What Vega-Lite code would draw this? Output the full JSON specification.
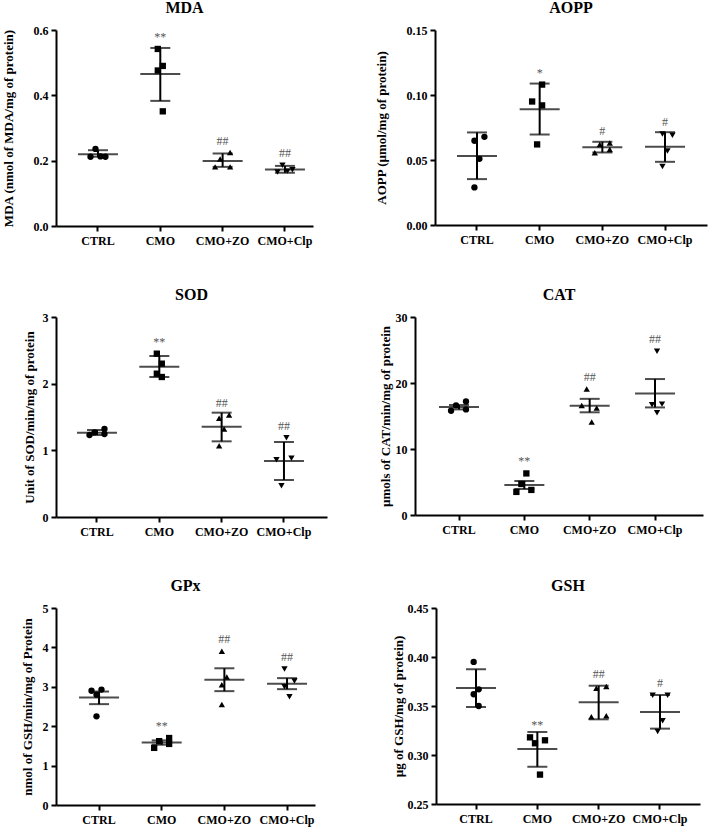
{
  "$schema": "https://vega.github.io/schema/vega-lite/v6.json",
  "background": "white",
  "padding": {"left": 2, "top": 0, "right": 2, "bottom": 2},
  "config": {
    "font": "Liberation Serif",
    "view": {"stroke": null},
    "axis": {"labelFont": "Liberation Serif", "labelFontSize": 12, "labelFontWeight": "bold", "labelColor": "black", "titleFont": "Liberation Serif", "titleFontSize": 13, "titleFontWeight": "bold", "titleColor": "black", "domainColor": "black", "domainWidth": 2, "tickColor": "black", "tickWidth": 2, "tickSize": 5, "grid": false, "labelPadding": 3},
    "axisX": {"labelPadding": 4},
    "title": {"font": "Liberation Serif", "fontSize": 16, "fontWeight": "bold", "color": "black", "offset": 8, "frame": "group"},
    "tick": {"thickness": 2, "color": "black"}
  },
  "datasets": {
    "MDA_obs": [
      {"group": "CTRL", "rep": 2, "value": 0.236}, {"group": "CTRL", "rep": 1, "value": 0.212}, {"group": "CTRL", "rep": 3, "value": 0.213}, {"group": "CTRL", "rep": 4, "value": 0.212},
      {"group": "CMO", "rep": 2, "value": 0.542}, {"group": "CMO", "rep": 3, "value": 0.49}, {"group": "CMO", "rep": 2, "value": 0.476}, {"group": "CMO", "rep": 3, "value": 0.351},
      {"group": "CMO+ZO", "rep": 4, "value": 0.225}, {"group": "CMO+ZO", "rep": 2, "value": 0.205}, {"group": "CMO+ZO", "rep": 1, "value": 0.181}, {"group": "CMO+ZO", "rep": 4, "value": 0.181},
      {"group": "CMO+Clp", "rep": 2, "value": 0.186}, {"group": "CMO+Clp", "rep": 4, "value": 0.172}, {"group": "CMO+Clp", "rep": 1, "value": 0.165}, {"group": "CMO+Clp", "rep": 3, "value": 0.168}
    ],
    "MDA_sum": [
      {"group": "CTRL", "mean": 0.22, "lo": 0.212, "hi": 0.232, "sig": null},
      {"group": "CMO", "mean": 0.465, "lo": 0.383, "hi": 0.545, "sig": "**"},
      {"group": "CMO+ZO", "mean": 0.199, "lo": 0.181, "hi": 0.222, "sig": "##"},
      {"group": "CMO+Clp", "mean": 0.173, "lo": 0.163, "hi": 0.184, "sig": "##"}
    ],
    "AOPP_obs": [
      {"group": "CTRL", "rep": 2, "value": 0.0648}, {"group": "CTRL", "rep": 4, "value": 0.0678}, {"group": "CTRL", "rep": 3, "value": 0.0509}, {"group": "CTRL", "rep": 2, "value": 0.0289},
      {"group": "CMO", "rep": 3, "value": 0.108}, {"group": "CMO", "rep": 1, "value": 0.095}, {"group": "CMO", "rep": 3, "value": 0.092}, {"group": "CMO", "rep": 2, "value": 0.062},
      {"group": "CMO+ZO", "rep": 2, "value": 0.062}, {"group": "CMO+ZO", "rep": 4, "value": 0.063}, {"group": "CMO+ZO", "rep": 1, "value": 0.0555}, {"group": "CMO+ZO", "rep": 4, "value": 0.058},
      {"group": "CMO+Clp", "rep": 2, "value": 0.07}, {"group": "CMO+Clp", "rep": 4, "value": 0.069}, {"group": "CMO+Clp", "rep": 3, "value": 0.057}, {"group": "CMO+Clp", "rep": 2, "value": 0.045}
    ],
    "AOPP_sum": [
      {"group": "CTRL", "mean": 0.0531, "lo": 0.0353, "hi": 0.0712, "sig": null},
      {"group": "CMO", "mean": 0.0891, "lo": 0.0696, "hi": 0.1088, "sig": "*"},
      {"group": "CMO+ZO", "mean": 0.0599, "lo": 0.0558, "hi": 0.064, "sig": "#"},
      {"group": "CMO+Clp", "mean": 0.0601, "lo": 0.0486, "hi": 0.0714, "sig": "#"}
    ],
    "SOD_obs": [
      {"group": "CTRL", "rep": 1, "value": 1.23}, {"group": "CTRL", "rep": 2, "value": 1.27}, {"group": "CTRL", "rep": 4, "value": 1.32}, {"group": "CTRL", "rep": 4, "value": 1.245},
      {"group": "CMO", "rep": 2, "value": 2.45}, {"group": "CMO", "rep": 3, "value": 2.3}, {"group": "CMO", "rep": 2, "value": 2.15}, {"group": "CMO", "rep": 3, "value": 2.1},
      {"group": "CMO+ZO", "rep": 4, "value": 1.53}, {"group": "CMO+ZO", "rep": 2, "value": 1.48}, {"group": "CMO+ZO", "rep": 3, "value": 1.32}, {"group": "CMO+ZO", "rep": 2, "value": 1.07},
      {"group": "CMO+Clp", "rep": 3, "value": 1.19}, {"group": "CMO+Clp", "rep": 1, "value": 0.86}, {"group": "CMO+Clp", "rep": 4, "value": 0.88}, {"group": "CMO+Clp", "rep": 2, "value": 0.47}
    ],
    "SOD_sum": [
      {"group": "CTRL", "mean": 1.265, "lo": 1.23, "hi": 1.305, "sig": null},
      {"group": "CMO", "mean": 2.255, "lo": 2.1, "hi": 2.415, "sig": "**"},
      {"group": "CMO+ZO", "mean": 1.355, "lo": 1.135, "hi": 1.565, "sig": "##"},
      {"group": "CMO+Clp", "mean": 0.84, "lo": 0.555, "hi": 1.125, "sig": "##"}
    ],
    "CAT_obs": [
      {"group": "CTRL", "rep": 1, "value": 15.8}, {"group": "CTRL", "rep": 2, "value": 16.6}, {"group": "CTRL", "rep": 4, "value": 17.2}, {"group": "CTRL", "rep": 4, "value": 16.0},
      {"group": "CMO", "rep": 3, "value": 6.3}, {"group": "CMO", "rep": 2, "value": 4.7}, {"group": "CMO", "rep": 1, "value": 3.5}, {"group": "CMO", "rep": 4, "value": 3.8},
      {"group": "CMO+ZO", "rep": 2, "value": 19.1}, {"group": "CMO+ZO", "rep": 1, "value": 16.6}, {"group": "CMO+ZO", "rep": 4, "value": 16.2}, {"group": "CMO+ZO", "rep": 3, "value": 14.1},
      {"group": "CMO+Clp", "rep": 3, "value": 24.8}, {"group": "CMO+Clp", "rep": 2, "value": 16.7}, {"group": "CMO+Clp", "rep": 4, "value": 16.8}, {"group": "CMO+Clp", "rep": 3, "value": 15.5}
    ],
    "CAT_sum": [
      {"group": "CTRL", "mean": 16.36, "lo": 16.0, "hi": 16.67, "sig": null},
      {"group": "CMO", "mean": 4.55, "lo": 3.94, "hi": 5.15, "sig": "**"},
      {"group": "CMO+ZO", "mean": 16.56, "lo": 15.56, "hi": 17.6, "sig": "##"},
      {"group": "CMO+Clp", "mean": 18.4, "lo": 16.3, "hi": 20.6, "sig": "##"}
    ],
    "GPx_obs": [
      {"group": "CTRL", "rep": 1, "value": 2.9}, {"group": "CTRL", "rep": 3, "value": 2.93}, {"group": "CTRL", "rep": 2, "value": 2.8}, {"group": "CTRL", "rep": 2, "value": 2.25},
      {"group": "CMO", "rep": 1, "value": 1.45}, {"group": "CMO", "rep": 2, "value": 1.62}, {"group": "CMO", "rep": 4, "value": 1.7}, {"group": "CMO", "rep": 4, "value": 1.55},
      {"group": "CMO+ZO", "rep": 2, "value": 3.9}, {"group": "CMO+ZO", "rep": 3, "value": 3.25}, {"group": "CMO+ZO", "rep": 2, "value": 3.05}, {"group": "CMO+ZO", "rep": 2, "value": 2.55},
      {"group": "CMO+Clp", "rep": 2, "value": 3.45}, {"group": "CMO+Clp", "rep": 4, "value": 3.15}, {"group": "CMO+Clp", "rep": 2, "value": 3.0}, {"group": "CMO+Clp", "rep": 3, "value": 2.75}
    ],
    "GPx_sum": [
      {"group": "CTRL", "mean": 2.73, "lo": 2.56, "hi": 2.88, "sig": null},
      {"group": "CMO", "mean": 1.585, "lo": 1.53, "hi": 1.64, "sig": "**"},
      {"group": "CMO+ZO", "mean": 3.18, "lo": 2.89, "hi": 3.47, "sig": "##"},
      {"group": "CMO+Clp", "mean": 3.08, "lo": 2.94, "hi": 3.22, "sig": "##"}
    ],
    "GSH_obs": [
      {"group": "CTRL", "rep": 2, "value": 0.395}, {"group": "CTRL", "rep": 3, "value": 0.367}, {"group": "CTRL", "rep": 2, "value": 0.362}, {"group": "CTRL", "rep": 3, "value": 0.35},
      {"group": "CMO", "rep": 1, "value": 0.318}, {"group": "CMO", "rep": 2, "value": 0.312}, {"group": "CMO", "rep": 4, "value": 0.315}, {"group": "CMO", "rep": 3, "value": 0.28},
      {"group": "CMO+ZO", "rep": 2, "value": 0.368}, {"group": "CMO+ZO", "rep": 4, "value": 0.37}, {"group": "CMO+ZO", "rep": 1, "value": 0.339}, {"group": "CMO+ZO", "rep": 4, "value": 0.34},
      {"group": "CMO+Clp", "rep": 1, "value": 0.361}, {"group": "CMO+Clp", "rep": 4, "value": 0.361}, {"group": "CMO+Clp", "rep": 3, "value": 0.335}, {"group": "CMO+Clp", "rep": 2, "value": 0.324}
    ],
    "GSH_sum": [
      {"group": "CTRL", "mean": 0.3684, "lo": 0.349, "hi": 0.3874, "sig": null},
      {"group": "CMO", "mean": 0.3061, "lo": 0.288, "hi": 0.3235, "sig": "**"},
      {"group": "CMO+ZO", "mean": 0.3537, "lo": 0.3364, "hi": 0.3707, "sig": "##"},
      {"group": "CMO+Clp", "mean": 0.3439, "lo": 0.3269, "hi": 0.3612, "sig": "#"}
    ]
  },
  "vconcat": [
    {
      "hconcat": [
        {
          "title": "MDA", "width": 257, "height": 196,
          "encoding": {"x": {"field": "group", "type": "nominal", "sort": ["CTRL", "CMO", "CMO+ZO", "CMO+Clp"], "scale": {"domain": ["CTRL", "CMO", "CMO+ZO", "CMO+Clp"], "paddingInner": 0.68, "paddingOuter": 0.4016, "align": 0.639}, "axis": {"title": null, "labelAngle": 0}}},
          "layer": [
            {"data": {"name": "MDA_sum"}, "mark": {"type": "rule", "strokeWidth": 2, "color": "black"}, "encoding": {"y": {"field": "lo", "type": "quantitative", "scale": {"domain": [0, 0.6], "nice": false}, "axis": {"values": [0, 0.2, 0.4, 0.6], "format": ".1f", "titlePadding": 18}, "title": "MDA (nmol of MDA/mg of protein)"}, "y2": {"field": "hi"}}},
            {"data": {"name": "MDA_sum"}, "mark": {"type": "tick", "size": 40}, "encoding": {"y": {"field": "mean", "type": "quantitative", "scale": {"domain": [0, 0.6], "nice": false}, "axis": {"values": [0, 0.2, 0.4, 0.6], "format": ".1f", "titlePadding": 18}, "title": "MDA (nmol of MDA/mg of protein)"}}},
            {"data": {"name": "MDA_sum"}, "mark": {"type": "tick", "size": 20}, "encoding": {"y": {"field": "lo", "type": "quantitative", "scale": {"domain": [0, 0.6], "nice": false}, "axis": {"values": [0, 0.2, 0.4, 0.6], "format": ".1f", "titlePadding": 18}, "title": "MDA (nmol of MDA/mg of protein)"}}},
            {"data": {"name": "MDA_sum"}, "mark": {"type": "tick", "size": 20}, "encoding": {"y": {"field": "hi", "type": "quantitative", "scale": {"domain": [0, 0.6], "nice": false}, "axis": {"values": [0, 0.2, 0.4, 0.6], "format": ".1f", "titlePadding": 18}, "title": "MDA (nmol of MDA/mg of protein)"}}},
            {"data": {"name": "MDA_obs"}, "mark": {"type": "point", "filled": true, "color": "black", "size": 40, "opacity": 1}, "encoding": {"y": {"field": "value", "type": "quantitative", "scale": {"domain": [0, 0.6], "nice": false}, "axis": {"values": [0, 0.2, 0.4, 0.6], "format": ".1f", "titlePadding": 18}, "title": "MDA (nmol of MDA/mg of protein)"}, "xOffset": {"field": "rep", "type": "nominal", "scale": {"domain": [1, 2, 3, 4]}}, "shape": {"field": "group", "type": "nominal", "scale": {"domain": ["CTRL", "CMO", "CMO+ZO", "CMO+Clp"], "range": ["circle", "square", "triangle-up", "triangle-down"]}, "legend": null}}},
            {"data": {"name": "MDA_obs"}, "transform": [{"aggregate": [{"op": "max", "field": "value", "as": "vmax"}], "groupby": ["group"]}, {"lookup": "group", "from": {"data": {"name": "MDA_sum"}, "key": "group", "fields": ["sig"]}}, {"filter": "datum.sig != null"}], "mark": {"type": "text", "dy": -12, "fontSize": 12, "color": "#555555", "font": "Liberation Serif"}, "encoding": {"y": {"field": "vmax", "type": "quantitative", "scale": {"domain": [0, 0.6], "nice": false}, "axis": {"values": [0, 0.2, 0.4, 0.6], "format": ".1f", "titlePadding": 18}, "title": "MDA (nmol of MDA/mg of protein)"}, "text": {"field": "sig"}}}
          ]
        },
        {
          "title": "AOPP", "width": 272, "height": 195,
          "encoding": {"x": {"field": "group", "type": "nominal", "sort": ["CTRL", "CMO", "CMO+ZO", "CMO+Clp"], "scale": {"domain": ["CTRL", "CMO", "CMO+ZO", "CMO+Clp"], "paddingInner": 0.68, "paddingOuter": 0.51, "align": 0.5}, "axis": {"title": null, "labelAngle": 0}}},
          "layer": [
            {"data": {"name": "AOPP_sum"}, "mark": {"type": "rule", "strokeWidth": 2, "color": "black"}, "encoding": {"y": {"field": "lo", "type": "quantitative", "scale": {"domain": [0, 0.15], "nice": false}, "axis": {"values": [0, 0.05, 0.1, 0.15], "format": ".2f", "titlePadding": 18}, "title": "AOPP (µmol/mg of protein)"}, "y2": {"field": "hi"}}},
            {"data": {"name": "AOPP_sum"}, "mark": {"type": "tick", "size": 40}, "encoding": {"y": {"field": "mean", "type": "quantitative", "scale": {"domain": [0, 0.15], "nice": false}, "axis": {"values": [0, 0.05, 0.1, 0.15], "format": ".2f", "titlePadding": 18}, "title": "AOPP (µmol/mg of protein)"}}},
            {"data": {"name": "AOPP_sum"}, "mark": {"type": "tick", "size": 20}, "encoding": {"y": {"field": "lo", "type": "quantitative", "scale": {"domain": [0, 0.15], "nice": false}, "axis": {"values": [0, 0.05, 0.1, 0.15], "format": ".2f", "titlePadding": 18}, "title": "AOPP (µmol/mg of protein)"}}},
            {"data": {"name": "AOPP_sum"}, "mark": {"type": "tick", "size": 20}, "encoding": {"y": {"field": "hi", "type": "quantitative", "scale": {"domain": [0, 0.15], "nice": false}, "axis": {"values": [0, 0.05, 0.1, 0.15], "format": ".2f", "titlePadding": 18}, "title": "AOPP (µmol/mg of protein)"}}},
            {"data": {"name": "AOPP_obs"}, "mark": {"type": "point", "filled": true, "color": "black", "size": 40, "opacity": 1}, "encoding": {"y": {"field": "value", "type": "quantitative", "scale": {"domain": [0, 0.15], "nice": false}, "axis": {"values": [0, 0.05, 0.1, 0.15], "format": ".2f", "titlePadding": 18}, "title": "AOPP (µmol/mg of protein)"}, "xOffset": {"field": "rep", "type": "nominal", "scale": {"domain": [1, 2, 3, 4]}}, "shape": {"field": "group", "type": "nominal", "scale": {"domain": ["CTRL", "CMO", "CMO+ZO", "CMO+Clp"], "range": ["circle", "square", "triangle-up", "triangle-down"]}, "legend": null}}},
            {"data": {"name": "AOPP_obs"}, "transform": [{"aggregate": [{"op": "max", "field": "value", "as": "vmax"}], "groupby": ["group"]}, {"lookup": "group", "from": {"data": {"name": "AOPP_sum"}, "key": "group", "fields": ["sig"]}}, {"filter": "datum.sig != null"}], "mark": {"type": "text", "dy": -12, "fontSize": 12, "color": "#555555", "font": "Liberation Serif"}, "encoding": {"y": {"field": "vmax", "type": "quantitative", "scale": {"domain": [0, 0.15], "nice": false}, "axis": {"values": [0, 0.05, 0.1, 0.15], "format": ".2f", "titlePadding": 18}, "title": "AOPP (µmol/mg of protein)"}, "text": {"field": "sig"}}}
          ]
        }
      ],
      "spacing": 62
    },
    {
      "hconcat": [
        {
          "title": "SOD", "width": 271, "height": 200,
          "encoding": {"x": {"field": "group", "type": "nominal", "sort": ["CTRL", "CMO", "CMO+ZO", "CMO+Clp"], "scale": {"domain": ["CTRL", "CMO", "CMO+ZO", "CMO+Clp"], "paddingInner": 0.68, "paddingOuter": 0.514, "align": 0.484}, "axis": {"title": null, "labelAngle": 0}}},
          "layer": [
            {"data": {"name": "SOD_sum"}, "mark": {"type": "rule", "strokeWidth": 2, "color": "black"}, "encoding": {"y": {"field": "lo", "type": "quantitative", "scale": {"domain": [0, 3], "nice": false}, "axis": {"values": [0, 1, 2, 3], "format": "d", "titlePadding": 6}, "title": "Unit of SOD/min/mg of protein"}, "y2": {"field": "hi"}}},
            {"data": {"name": "SOD_sum"}, "mark": {"type": "tick", "size": 40}, "encoding": {"y": {"field": "mean", "type": "quantitative", "scale": {"domain": [0, 3], "nice": false}, "axis": {"values": [0, 1, 2, 3], "format": "d", "titlePadding": 6}, "title": "Unit of SOD/min/mg of protein"}}},
            {"data": {"name": "SOD_sum"}, "mark": {"type": "tick", "size": 20}, "encoding": {"y": {"field": "lo", "type": "quantitative", "scale": {"domain": [0, 3], "nice": false}, "axis": {"values": [0, 1, 2, 3], "format": "d", "titlePadding": 6}, "title": "Unit of SOD/min/mg of protein"}}},
            {"data": {"name": "SOD_sum"}, "mark": {"type": "tick", "size": 20}, "encoding": {"y": {"field": "hi", "type": "quantitative", "scale": {"domain": [0, 3], "nice": false}, "axis": {"values": [0, 1, 2, 3], "format": "d", "titlePadding": 6}, "title": "Unit of SOD/min/mg of protein"}}},
            {"data": {"name": "SOD_obs"}, "mark": {"type": "point", "filled": true, "color": "black", "size": 40, "opacity": 1}, "encoding": {"y": {"field": "value", "type": "quantitative", "scale": {"domain": [0, 3], "nice": false}, "axis": {"values": [0, 1, 2, 3], "format": "d", "titlePadding": 6}, "title": "Unit of SOD/min/mg of protein"}, "xOffset": {"field": "rep", "type": "nominal", "scale": {"domain": [1, 2, 3, 4]}}, "shape": {"field": "group", "type": "nominal", "scale": {"domain": ["CTRL", "CMO", "CMO+ZO", "CMO+Clp"], "range": ["circle", "square", "triangle-up", "triangle-down"]}, "legend": null}}},
            {"data": {"name": "SOD_obs"}, "transform": [{"aggregate": [{"op": "max", "field": "value", "as": "vmax"}], "groupby": ["group"]}, {"lookup": "group", "from": {"data": {"name": "SOD_sum"}, "key": "group", "fields": ["sig"]}}, {"filter": "datum.sig != null"}], "mark": {"type": "text", "dy": -12, "fontSize": 12, "color": "#555555", "font": "Liberation Serif"}, "encoding": {"y": {"field": "vmax", "type": "quantitative", "scale": {"domain": [0, 3], "nice": false}, "axis": {"values": [0, 1, 2, 3], "format": "d", "titlePadding": 6}, "title": "Unit of SOD/min/mg of protein"}, "text": {"field": "sig"}}}
          ]
        },
        {
          "title": "CAT", "width": 288, "height": 198,
          "encoding": {"x": {"field": "group", "type": "nominal", "sort": ["CTRL", "CMO", "CMO+ZO", "CMO+Clp"], "scale": {"domain": ["CTRL", "CMO", "CMO+ZO", "CMO+Clp"], "paddingInner": 0.68, "paddingOuter": 0.544, "align": 0.472}, "axis": {"title": null, "labelAngle": 0}}},
          "layer": [
            {"data": {"name": "CAT_sum"}, "mark": {"type": "rule", "strokeWidth": 2, "color": "black"}, "encoding": {"y": {"field": "lo", "type": "quantitative", "scale": {"domain": [0, 30], "nice": false}, "axis": {"values": [0, 10, 20, 30], "format": "d", "titlePadding": 3}, "title": "µmols of CAT/min/mg of protein"}, "y2": {"field": "hi"}}},
            {"data": {"name": "CAT_sum"}, "mark": {"type": "tick", "size": 40}, "encoding": {"y": {"field": "mean", "type": "quantitative", "scale": {"domain": [0, 30], "nice": false}, "axis": {"values": [0, 10, 20, 30], "format": "d", "titlePadding": 3}, "title": "µmols of CAT/min/mg of protein"}}},
            {"data": {"name": "CAT_sum"}, "mark": {"type": "tick", "size": 20}, "encoding": {"y": {"field": "lo", "type": "quantitative", "scale": {"domain": [0, 30], "nice": false}, "axis": {"values": [0, 10, 20, 30], "format": "d", "titlePadding": 3}, "title": "µmols of CAT/min/mg of protein"}}},
            {"data": {"name": "CAT_sum"}, "mark": {"type": "tick", "size": 20}, "encoding": {"y": {"field": "hi", "type": "quantitative", "scale": {"domain": [0, 30], "nice": false}, "axis": {"values": [0, 10, 20, 30], "format": "d", "titlePadding": 3}, "title": "µmols of CAT/min/mg of protein"}}},
            {"data": {"name": "CAT_obs"}, "mark": {"type": "point", "filled": true, "color": "black", "size": 40, "opacity": 1}, "encoding": {"y": {"field": "value", "type": "quantitative", "scale": {"domain": [0, 30], "nice": false}, "axis": {"values": [0, 10, 20, 30], "format": "d", "titlePadding": 3}, "title": "µmols of CAT/min/mg of protein"}, "xOffset": {"field": "rep", "type": "nominal", "scale": {"domain": [1, 2, 3, 4]}}, "shape": {"field": "group", "type": "nominal", "scale": {"domain": ["CTRL", "CMO", "CMO+ZO", "CMO+Clp"], "range": ["circle", "square", "triangle-up", "triangle-down"]}, "legend": null}}},
            {"data": {"name": "CAT_obs"}, "transform": [{"aggregate": [{"op": "max", "field": "value", "as": "vmax"}], "groupby": ["group"]}, {"lookup": "group", "from": {"data": {"name": "CAT_sum"}, "key": "group", "fields": ["sig"]}}, {"filter": "datum.sig != null"}], "mark": {"type": "text", "dy": -12, "fontSize": 12, "color": "#555555", "font": "Liberation Serif"}, "encoding": {"y": {"field": "vmax", "type": "quantitative", "scale": {"domain": [0, 30], "nice": false}, "axis": {"values": [0, 10, 20, 30], "format": "d", "titlePadding": 3}, "title": "µmols of CAT/min/mg of protein"}, "text": {"field": "sig"}}}
          ]
        }
      ],
      "spacing": 52
    },
    {
      "hconcat": [
        {
          "title": "GPx", "width": 259, "height": 197,
          "encoding": {"x": {"field": "group", "type": "nominal", "sort": ["CTRL", "CMO", "CMO+ZO", "CMO+Clp"], "scale": {"domain": ["CTRL", "CMO", "CMO+ZO", "CMO+Clp"], "paddingInner": 0.68, "paddingOuter": 0.4065, "align": 0.648}, "axis": {"title": null, "labelAngle": 0}}},
          "layer": [
            {"data": {"name": "GPx_sum"}, "mark": {"type": "rule", "strokeWidth": 2, "color": "black"}, "encoding": {"y": {"field": "lo", "type": "quantitative", "scale": {"domain": [0, 5], "nice": false}, "axis": {"values": [0, 1, 2, 3, 4, 5], "format": "d", "titlePadding": 8}, "title": "nmol of GSH/min/mg of Protein"}, "y2": {"field": "hi"}}},
            {"data": {"name": "GPx_sum"}, "mark": {"type": "tick", "size": 40}, "encoding": {"y": {"field": "mean", "type": "quantitative", "scale": {"domain": [0, 5], "nice": false}, "axis": {"values": [0, 1, 2, 3, 4, 5], "format": "d", "titlePadding": 8}, "title": "nmol of GSH/min/mg of Protein"}}},
            {"data": {"name": "GPx_sum"}, "mark": {"type": "tick", "size": 20}, "encoding": {"y": {"field": "lo", "type": "quantitative", "scale": {"domain": [0, 5], "nice": false}, "axis": {"values": [0, 1, 2, 3, 4, 5], "format": "d", "titlePadding": 8}, "title": "nmol of GSH/min/mg of Protein"}}},
            {"data": {"name": "GPx_sum"}, "mark": {"type": "tick", "size": 20}, "encoding": {"y": {"field": "hi", "type": "quantitative", "scale": {"domain": [0, 5], "nice": false}, "axis": {"values": [0, 1, 2, 3, 4, 5], "format": "d", "titlePadding": 8}, "title": "nmol of GSH/min/mg of Protein"}}},
            {"data": {"name": "GPx_obs"}, "mark": {"type": "point", "filled": true, "color": "black", "size": 40, "opacity": 1}, "encoding": {"y": {"field": "value", "type": "quantitative", "scale": {"domain": [0, 5], "nice": false}, "axis": {"values": [0, 1, 2, 3, 4, 5], "format": "d", "titlePadding": 8}, "title": "nmol of GSH/min/mg of Protein"}, "xOffset": {"field": "rep", "type": "nominal", "scale": {"domain": [1, 2, 3, 4]}}, "shape": {"field": "group", "type": "nominal", "scale": {"domain": ["CTRL", "CMO", "CMO+ZO", "CMO+Clp"], "range": ["circle", "square", "triangle-up", "triangle-down"]}, "legend": null}}},
            {"data": {"name": "GPx_obs"}, "transform": [{"aggregate": [{"op": "max", "field": "value", "as": "vmax"}], "groupby": ["group"]}, {"lookup": "group", "from": {"data": {"name": "GPx_sum"}, "key": "group", "fields": ["sig"]}}, {"filter": "datum.sig != null"}], "mark": {"type": "text", "dy": -12, "fontSize": 12, "color": "#555555", "font": "Liberation Serif"}, "encoding": {"y": {"field": "vmax", "type": "quantitative", "scale": {"domain": [0, 5], "nice": false}, "axis": {"values": [0, 1, 2, 3, 4, 5], "format": "d", "titlePadding": 8}, "title": "nmol of GSH/min/mg of Protein"}, "text": {"field": "sig"}}}
          ]
        },
        {
          "title": "GSH", "width": 264, "height": 196,
          "encoding": {"x": {"field": "group", "type": "nominal", "sort": ["CTRL", "CMO", "CMO+ZO", "CMO+Clp"], "scale": {"domain": ["CTRL", "CMO", "CMO+ZO", "CMO+Clp"], "paddingInner": 0.68, "paddingOuter": 0.4925, "align": 0.5}, "axis": {"title": null, "labelAngle": 0}}},
          "layer": [
            {"data": {"name": "GSH_sum"}, "mark": {"type": "rule", "strokeWidth": 2, "color": "black"}, "encoding": {"y": {"field": "lo", "type": "quantitative", "scale": {"domain": [0.25, 0.45], "nice": false, "zero": false}, "axis": {"values": [0.25, 0.3, 0.35, 0.4, 0.45], "format": ".2f", "titlePadding": 2}, "title": "µg of GSH/mg of protein)"}, "y2": {"field": "hi"}}},
            {"data": {"name": "GSH_sum"}, "mark": {"type": "tick", "size": 40}, "encoding": {"y": {"field": "mean", "type": "quantitative", "scale": {"domain": [0.25, 0.45], "nice": false, "zero": false}, "axis": {"values": [0.25, 0.3, 0.35, 0.4, 0.45], "format": ".2f", "titlePadding": 2}, "title": "µg of GSH/mg of protein)"}}},
            {"data": {"name": "GSH_sum"}, "mark": {"type": "tick", "size": 20}, "encoding": {"y": {"field": "lo", "type": "quantitative", "scale": {"domain": [0.25, 0.45], "nice": false, "zero": false}, "axis": {"values": [0.25, 0.3, 0.35, 0.4, 0.45], "format": ".2f", "titlePadding": 2}, "title": "µg of GSH/mg of protein)"}}},
            {"data": {"name": "GSH_sum"}, "mark": {"type": "tick", "size": 20}, "encoding": {"y": {"field": "hi", "type": "quantitative", "scale": {"domain": [0.25, 0.45], "nice": false, "zero": false}, "axis": {"values": [0.25, 0.3, 0.35, 0.4, 0.45], "format": ".2f", "titlePadding": 2}, "title": "µg of GSH/mg of protein)"}}},
            {"data": {"name": "GSH_obs"}, "mark": {"type": "point", "filled": true, "color": "black", "size": 40, "opacity": 1}, "encoding": {"y": {"field": "value", "type": "quantitative", "scale": {"domain": [0.25, 0.45], "nice": false, "zero": false}, "axis": {"values": [0.25, 0.3, 0.35, 0.4, 0.45], "format": ".2f", "titlePadding": 2}, "title": "µg of GSH/mg of protein)"}, "xOffset": {"field": "rep", "type": "nominal", "scale": {"domain": [1, 2, 3, 4]}}, "shape": {"field": "group", "type": "nominal", "scale": {"domain": ["CTRL", "CMO", "CMO+ZO", "CMO+Clp"], "range": ["circle", "square", "triangle-up", "triangle-down"]}, "legend": null}}},
            {"data": {"name": "GSH_obs"}, "transform": [{"aggregate": [{"op": "max", "field": "value", "as": "vmax"}], "groupby": ["group"]}, {"lookup": "group", "from": {"data": {"name": "GSH_sum"}, "key": "group", "fields": ["sig"]}}, {"filter": "datum.sig != null"}], "mark": {"type": "text", "dy": -12, "fontSize": 12, "color": "#555555", "font": "Liberation Serif"}, "encoding": {"y": {"field": "vmax", "type": "quantitative", "scale": {"domain": [0.25, 0.45], "nice": false, "zero": false}, "axis": {"values": [0.25, 0.3, 0.35, 0.4, 0.45], "format": ".2f", "titlePadding": 2}, "title": "µg of GSH/mg of protein)"}, "text": {"field": "sig"}}}
          ]
        }
      ],
      "spacing": 77
    }
  ],
  "spacing": 41
}
